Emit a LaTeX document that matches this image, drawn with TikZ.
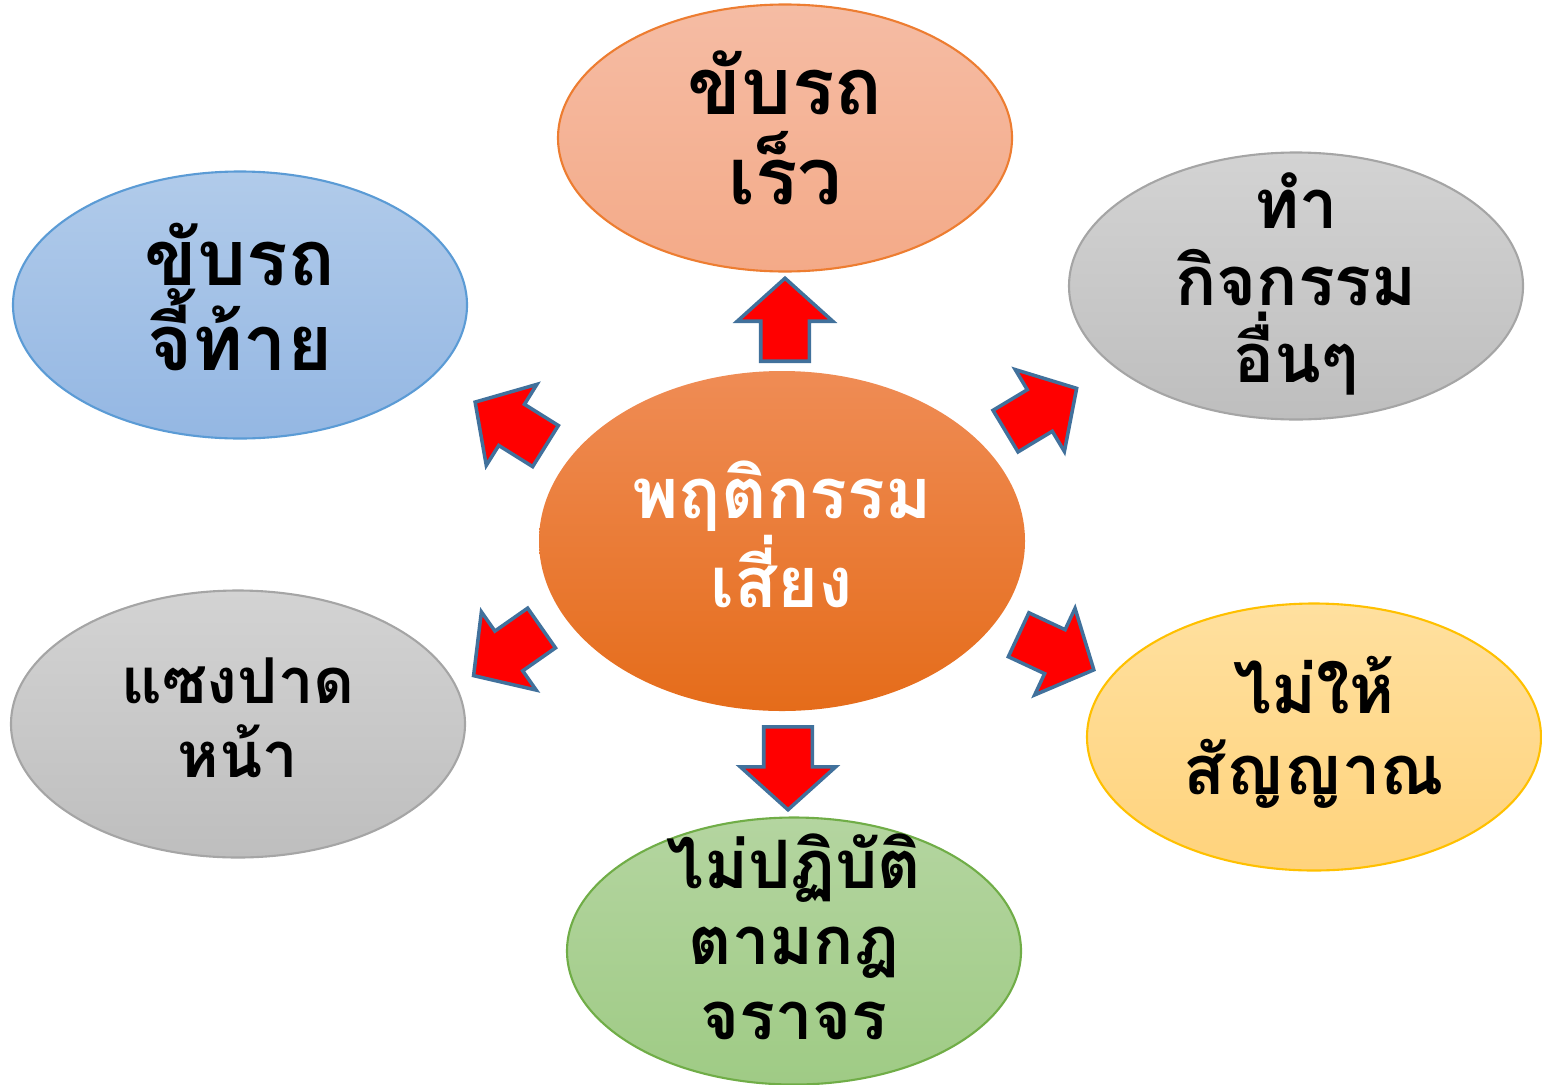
\documentclass[tikz,border=0pt]{standalone}
\usepackage{fontspec}
\newfontfamily\thaifont[Script=Thai]{Loma}
\usetikzlibrary{shapes.geometric,shapes.arrows}
\definecolor{arrowedge}{HTML}{41719C}
\begin{document}
\begin{tikzpicture}[
  bubble/.style={ellipse, inner sep=0, minimum width=4.54cm, minimum height=2.67cm, line width=0.6pt},
  txt/.style={align=center, inner sep=0, font=\thaifont\bfseries\fontsize{20}{24}\selectfont},
  blockarrow/.style={single arrow, draw=arrowedge, fill=red, line width=1pt, inner xsep=0, inner ysep=0.225cm,
    single arrow head extend=0.235cm, single arrow tip angle=96, minimum height=0.83cm, anchor=tail}]
  \useasboundingbox (0,0) rectangle (15.42,10.84);
  \node [bubble, draw={rgb,255:red,237;green,125;blue,49}, top color={rgb,255:red,245;green,188;blue,164}, bottom color={rgb,255:red,244;green,170;blue,136}] (fast) at (7.85,9.46) {};
  \node [bubble, draw={rgb,255:red,91;green,155;blue,213}, top color={rgb,255:red,177;green,203;blue,234}, bottom color={rgb,255:red,148;green,183;blue,227}] (tail) at (2.40,7.79) {};
  \node [bubble, draw={rgb,255:red,165;green,165;blue,165}, top color={rgb,255:red,211;green,211;blue,211}, bottom color={rgb,255:red,190;green,190;blue,190}] (other) at (12.96,7.98) {};
  \node [bubble, draw={rgb,255:red,165;green,165;blue,165}, top color={rgb,255:red,211;green,211;blue,211}, bottom color={rgb,255:red,190;green,190;blue,190}] (cut) at (2.38,3.60) {};
  \node [bubble, draw={rgb,255:red,255;green,192;blue,0}, top color={rgb,255:red,255;green,224;blue,159}, bottom color={rgb,255:red,255;green,211;blue,124}] (signal) at (13.14,3.47) {};
  \node [bubble, draw={rgb,255:red,112;green,173;blue,71}, top color={rgb,255:red,180;green,213;blue,160}, bottom color={rgb,255:red,159;green,203;blue,133}] (rules) at (7.94,1.33) {};
  \node [bubble, minimum width=4.86cm, minimum height=3.40cm, top color={rgb,255:red,239;green,140;blue,85}, middle color={rgb,255:red,243;green,126;blue,44}, bottom color={rgb,255:red,229;green,108;blue,26}] (risk) at (7.82,5.43) {};
  \node [txt, font=\thaifont\bfseries\fontsize{22.5}{25.5}\selectfont] (fast-t) at (7.85,9.56) {ขับรถ\\เร็ว};
  \node [txt, font=\thaifont\bfseries\fontsize{22}{24}\selectfont] (tail-t) at (2.40,7.87) {ขับรถ\\จี้ท้าย};
  \node [txt, font=\thaifont\bfseries\fontsize{19.5}{22}\selectfont] (other-t) at (12.96,8.0) {ทำ\\กิจกรรม\\อื่นๆ};
  \node [txt, font=\thaifont\bfseries\fontsize{18}{21}\selectfont] (cut-t) at (2.38,3.66) {แซงปาด\\หน้า};
  \node [txt, font=\thaifont\bfseries\fontsize{19.5}{23}\selectfont] (signal-t) at (13.14,3.52) {ไม่ให้\\สัญญาณ};
  \node [txt, font=\thaifont\bfseries\fontsize{19}{21.5}\selectfont] (rules-t) at (7.94,1.47) {ไม่ปฏิบัติ\\ตามกฎ\\จราจร};
  \node [txt, text=white, font=\thaifont\bfseries\fontsize{20}{21}\selectfont] (risk-t) at (7.82,5.50) {พฤติกรรม\\เสี่ยง};
  \node [blockarrow, rotate=90] (a1) at (7.85,7.21) {};
  \node [blockarrow, rotate=-90] (a2) at (7.88,3.59) {};
  \node [blockarrow, rotate=148] (a3) at (5.47,6.37) {};
  \node [blockarrow, rotate=31] (a4) at (10.04,6.52) {};
  \node [blockarrow, rotate=215] (a5) at (5.43,4.57) {};
  \node [blockarrow, rotate=-25] (a6) at (10.17,4.50) {};
\end{tikzpicture}
\end{document}
